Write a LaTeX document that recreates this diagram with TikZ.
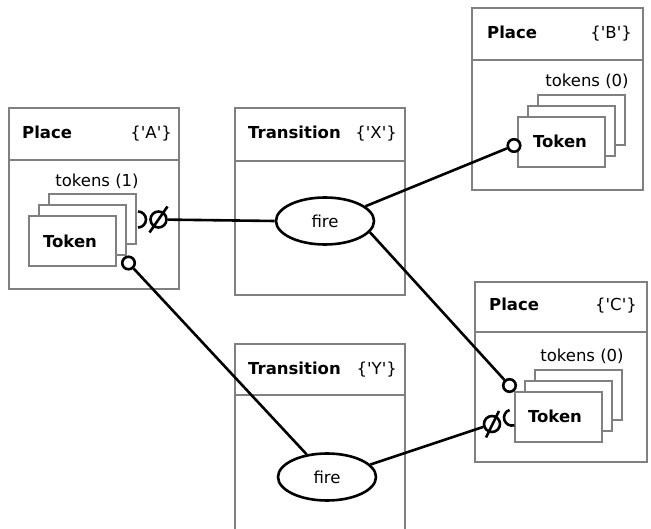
\documentclass[tikz,border=0pt]{standalone}
\usepackage{fontspec}
\setmainfont{DejaVu Sans}[Ligatures=TeXOff]
\usetikzlibrary{shapes.geometric,calc}
\definecolor{boxgray}{RGB}{128,128,128}
\begin{document}
\begin{tikzpicture}[x=1pt,y=-1pt,
  font=\fontsize{16.5}{20}\selectfont,
  box/.style={draw=boxgray, line width=2.8pt, rectangle, outer sep=0pt, inner sep=0pt, anchor=north west},
  card/.style={box, fill=white, minimum width=87pt, minimum height=50pt},
  sep/.style={draw=boxgray, line width=2.8pt},
  ttl/.style={anchor=base west, inner sep=0pt, font=\fontsize{16.5}{20}\selectfont\bfseries},
  tag/.style={anchor=base east, inner sep=0pt},
  lbl/.style={anchor=base, inner sep=0pt},
  tok/.style={anchor=base, inner sep=0pt, font=\fontsize{16.5}{20}\selectfont\bfseries},
  firenode/.style={ellipse, draw=black, line width=2.6pt, fill=white, minimum width=98pt, minimum height=47pt, inner sep=0pt},
  conn/.style={draw=black, line width=2.6pt},
  port/.style={circle, draw=black, line width=2.6pt, fill=white, minimum size=12.5pt, inner sep=0pt},
  ball/.style={circle, draw=black, line width=2.6pt, minimum size=16pt, inner sep=0pt},
  sym/.style={draw=black, line width=2.6pt}]
\useasboundingbox (0,0) rectangle (651,529);
\begin{scope}
\clip (0,0) rectangle (651,529);
% ---------- Place A ----------
\node[box, minimum width=170pt, minimum height=181pt] (placeA) at (9,108) {};
\path[sep] (9,160) -- (179,160);
\node[ttl] (placeAt) at (22,139) {Place};
\node[tag] (placeAk) at (172,139) {\{'A'\}};
\node[lbl] (tokAl) at (97,187) {tokens (1)};
\node[card] (cardA3) at (49,194) {};
\node[card] (cardA2) at (39,205) {};
\node[card] (cardA1) at (29,216) {};
\node[tok] (tokA) at (70,248) {Token};
% ---------- Place B ----------
\node[box, minimum width=171pt, minimum height=182pt] (placeB) at (472,8) {};
\path[sep] (472,60) -- (643,60);
\node[ttl] (placeBt) at (487,39) {Place};
\node[tag] (placeBk) at (632,39) {\{'B'\}};
\node[lbl] (tokBl) at (587,87) {tokens (0)};
\node[card] (cardB3) at (538,95) {};
\node[card] (cardB2) at (528,106) {};
\node[card] (cardB1) at (518,117) {};
\node[tok] (tokB) at (560,148) {Token};
% ---------- Place C ----------
\node[box, minimum width=172pt, minimum height=180pt] (placeC) at (475,282) {};
\path[sep] (475,332) -- (647,332);
\node[ttl] (placeCt) at (489,311) {Place};
\node[tag] (placeCk) at (637,311) {\{'C'\}};
\node[lbl] (tokCl) at (582,362) {tokens (0)};
\node[card] (cardC3) at (535,370) {};
\node[card] (cardC2) at (525,381) {};
\node[card] (cardC1) at (515,392) {};
\node[tok] (tokC) at (555,423) {Token};
% ---------- Transition X ----------
\node[box, minimum width=170pt, minimum height=187pt] (transX) at (235,108) {};
\path[sep] (235,161) -- (405,161);
\node[ttl] (transXt) at (248,139) {Transition};
\node[tag] (transXk) at (397,139) {\{'X'\}};
% ---------- Transition Y ----------
\node[box, minimum width=170pt, minimum height=200pt] (transY) at (235,344) {};
\path[sep] (235,395) -- (405,395);
\node[ttl] (transYt) at (248,375) {Transition};
\node[tag] (transYk) at (397,375) {\{'Y'\}};
% ---------- fire ellipses ----------
\node[firenode] (fireX) at (325,221) {fire};
\node[firenode] (fireY) at (327,477) {fire};
% ---------- ports ----------
\node[port] (pA) at (128.5,263) {};
\node[port] (pB) at (514,145.5) {};
\node[port] (pC) at (509.5,385.5) {};
\node[ball] (ballA) at (158.5,219.5) {};
\node[ball] (ballC) at (492,424) {};
% ---------- connectors ----------
\path[conn] (ballA) -- (fireX.west);
\path[conn] (fireX.20) -- (pB);
\path[conn] (fireX.-14) -- (pC);
\path[conn] (fireY.132) -- (pA);
\path[conn] (fireY.16) -- (ballC);
% ball slashes and sockets
\path[sym] ($(ballA)+(-9,13)$) -- ($(ballA)+(9,-13)$);
\path[sym] (138,211.5) arc[start angle=-90, end angle=90, radius=8];
\path[sym] ($(ballC)+(-6,13.5)$) -- ($(ballC)+(7,-13)$);
\path[sym] ($(ballC)+(20,-6.4)$) ++(72.2:8) arc[start angle=72.2, end angle=252.2, radius=8];
\end{scope}
\end{tikzpicture}
\end{document}
